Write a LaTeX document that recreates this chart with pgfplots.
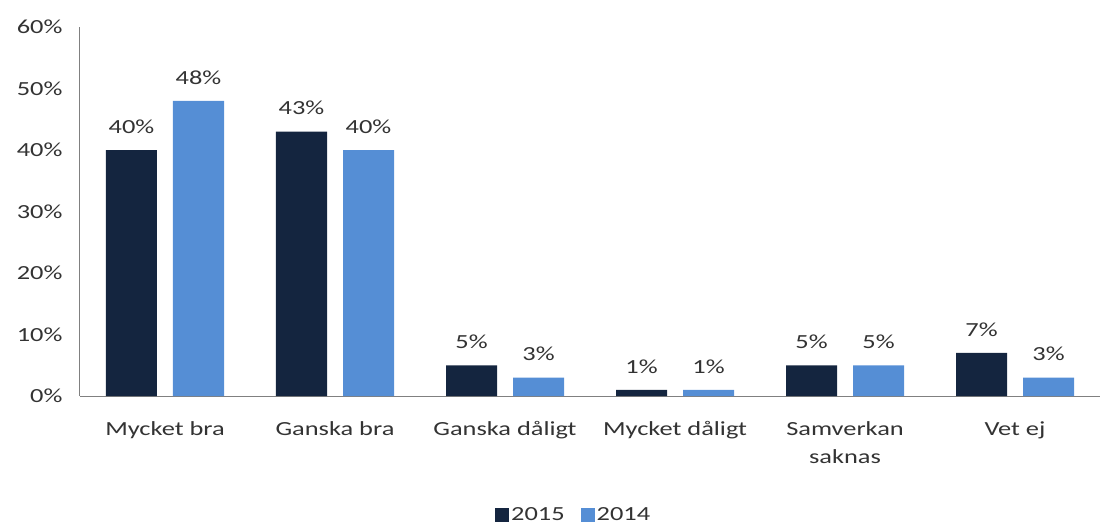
\documentclass[border=0pt]{standalone}
\usepackage{pgfplots}
\pgfplotsset{compat=1.18}
\usepackage{fontspec}
\setmainfont{Carlito}[FakeStretch=1.32]
\definecolor{dark}{HTML}{14253F}
\definecolor{light}{HTML}{558ED5}
\definecolor{axgray}{HTML}{808080}
\definecolor{txt}{HTML}{333333}
\begin{document}
\begin{tikzpicture}
\path[use as bounding box] (-80pt,-129pt) rectangle (1022pt,396pt);
\begin{axis}[
  scale only axis, width=1020pt, height=369pt,
  at={(0,0)}, anchor=south west,
  ybar, bar width=51pt, ybar=16pt,
  xmin=-0.5, xmax=5.5, ymin=0, ymax=0.6,
  xtick={0,1,2,3,4,5},
  xticklabels={Mycket bra, Ganska bra, Ganska dåligt, Mycket dåligt, {Samverkan\\saknas}, Vet ej},
  ytick={0,0.1,0.2,0.3,0.4,0.5,0.6},
  yticklabels={0\%,10\%,20\%,30\%,40\%,50\%,60\%},
  axis x line*=bottom, axis y line*=left,
  axis line style={axgray, line width=1pt},
  x axis line style={-}, y axis line style={-},
  major tick length=0pt,
  /pgf/number format/assume math mode=true,
  tick label style={font=\fontsize{20}{28}\selectfont, text=txt},
  x tick label style={align=center, yshift=-22pt},
  y tick label style={xshift=-14pt},
  nodes near coords={\pgfmathprintnumber[fixed,precision=0,assume math mode=true]{\pgfplotspointmeta}\%},
  point meta={y*100},
  every node near coord/.append style={font=\fontsize{20}{24}\selectfont, text=txt, yshift=13pt},
  legend style={at={(0.484,-0.323)}, anchor=center, draw=none, legend columns=-1,
    font=\fontsize{20}{24}\selectfont, text=txt, /tikz/every even column/.append style={column sep=14pt}},
  legend image code/.code={\fill[#1] (0pt,-7pt) rectangle (14pt,7pt);},
  clip=false,
]
\addplot[fill=dark, draw=none] coordinates {(0,0.40) (1,0.43) (2,0.05) (3,0.01) (4,0.05) (5,0.07)};
\addplot[fill=light, draw=none] coordinates {(0,0.48) (1,0.40) (2,0.03) (3,0.01) (4,0.05) (5,0.03)};
\legend{2015,2014}
\end{axis}
\end{tikzpicture}
\end{document}
